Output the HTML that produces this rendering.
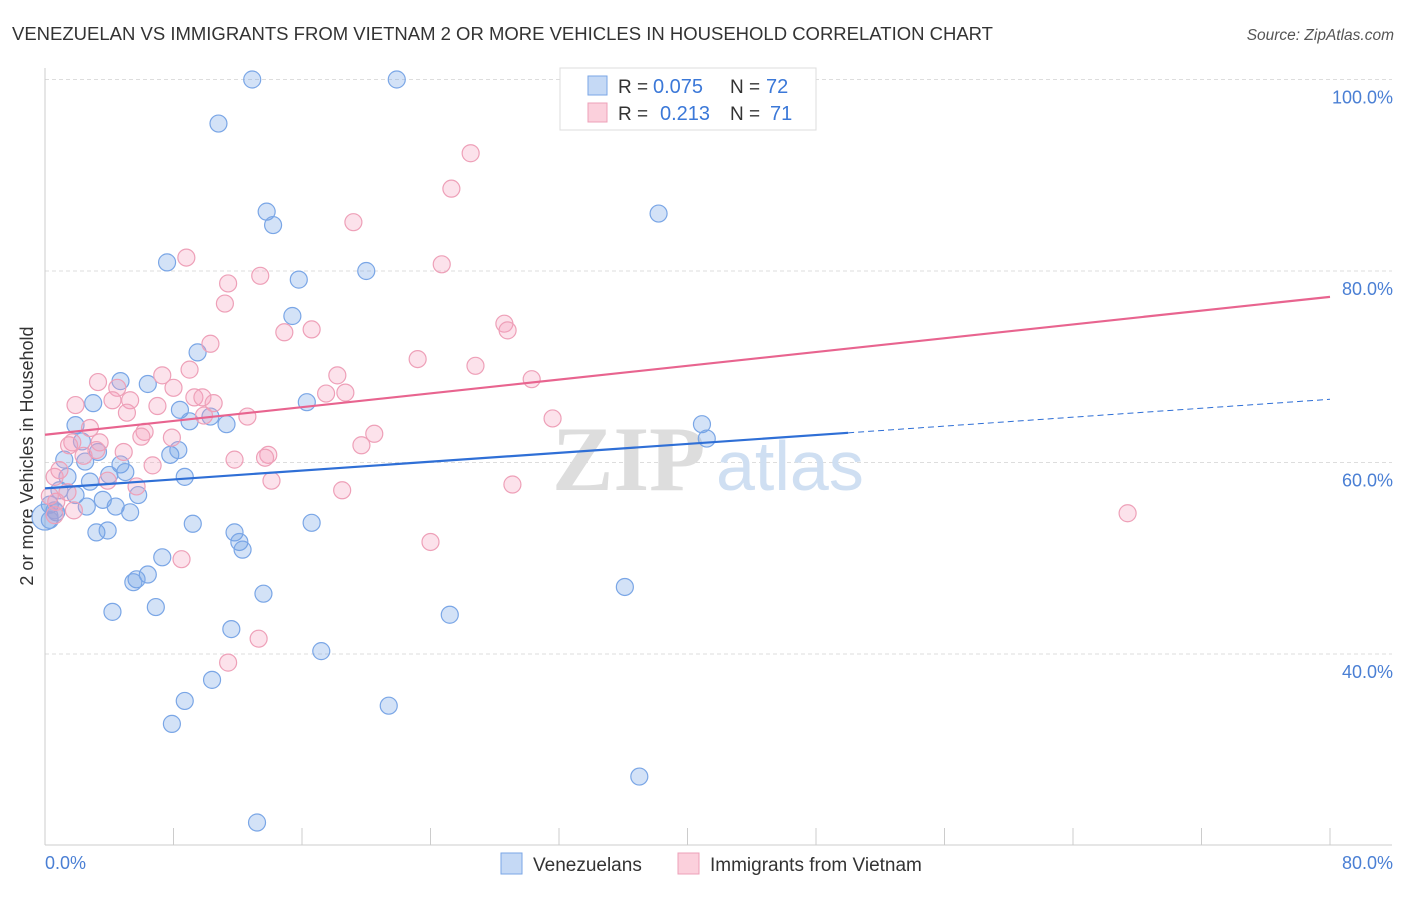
<!DOCTYPE html>
<html><head><meta charset="utf-8"><style>
body{margin:0;background:#fff;width:1406px;height:892px;overflow:hidden;font-family:"Liberation Sans",sans-serif}
</style></head><body>
<svg width="1406" height="892" xmlns="http://www.w3.org/2000/svg">
<text x="12" y="40" font-size="18.5" fill="#333">VENEZUELAN VS IMMIGRANTS FROM VIETNAM 2 OR MORE VEHICLES IN HOUSEHOLD CORRELATION CHART</text>
<text x="1394" y="40" font-size="15.5" fill="#555" font-style="italic" text-anchor="end">Source: ZipAtlas.com</text>
<g id="grid"></g>
<g><text x="552" y="490" font-size="92" fill="#ddd" font-family="Liberation Serif,serif" font-weight="bold">ZIP</text><text x="716" y="490" font-size="70" fill="#cfdff2">atlas</text></g>
<line x1="45" y1="68" x2="45" y2="845" stroke="#ccc"/>
<line x1="45" y1="845" x2="1392" y2="845" stroke="#ccc"/>
<g id="ticks"></g>
<text transform="translate(33,456) rotate(-90)" font-size="18" fill="#333" text-anchor="middle">2 or more Vehicles in Household</text>
<text x="45" y="869" font-size="18" fill="#4a7fd4">0.0%</text>
<text x="1393" y="869" font-size="18" fill="#4a7fd4" text-anchor="end">80.0%</text>
<g id="pts"></g>
<g id="lines"></g>
<g>
<rect x="560" y="68" width="256" height="62" fill="#fff" stroke="#ddd"/>
<rect x="588" y="76" width="19" height="19" fill="#c5d9f5" stroke="#7aa6e6"/>
<rect x="588" y="103" width="19" height="19" fill="#fbd0dc" stroke="#eea0b8"/>
<text x="618" y="93" font-size="19" fill="#333">R =</text>
<text x="653" y="93" font-size="20" fill="#3b78d8">0.075</text>
<text x="730" y="93" font-size="19" fill="#333">N =</text>
<text x="766" y="93" font-size="20" fill="#3b78d8">72</text>
<text x="618" y="120" font-size="19" fill="#333">R =</text>
<text x="660" y="120" font-size="20" fill="#3b78d8">0.213</text>
<text x="730" y="120" font-size="19" fill="#333">N =</text>
<text x="770" y="120" font-size="20" fill="#3b78d8">71</text>
</g>
<g>
<rect x="501" y="853" width="21" height="21" fill="#c5d9f5" stroke="#7aa6e6"/>
<text x="533" y="871" font-size="19" fill="#333">Venezuelans</text>
<rect x="678" y="853" width="21" height="21" fill="#fbd0dc" stroke="#eea0b8"/>
<text x="710" y="871" font-size="19" fill="#333">Immigrants from Vietnam</text>
</g>
</svg>
<script>
const yTicks=[100,80,60,40];
const xTickVals=[0,8,16,24,32,40,48,56,64,72,80];
const blueX=[12.9,21.9,10.8,13.8,14.2,38.2,7.6,15.8,20.0,15.4,9.5,4.7,6.4,3.0,8.4,16.3,9.0,10.3,11.3,1.9,2.3,7.8,8.3,3.3,1.2,4.7,2.5,5.0,4.0,8.7,2.8,1.4,0.9,1.9,3.6,5.8,2.6,4.4,5.3,0.3,0.7,0.0,3.2,3.9,9.2,11.8,12.1,12.3,16.6,7.3,6.4,5.7,5.5,4.2,6.9,13.6,11.6,25.2,36.1,17.2,10.4,8.7,7.9,21.4,37.0,13.2,40.9,41.2,0.6,0.3];
const blueY=[100.0,100.0,95.4,86.2,84.8,86.0,80.9,79.1,80.0,75.3,71.5,68.5,68.2,66.2,65.5,66.3,64.3,64.8,64.0,63.9,62.2,60.8,61.3,61.1,60.3,59.8,60.1,59.0,58.7,58.5,58.0,58.5,57.1,56.6,56.1,56.6,55.4,55.4,54.8,55.6,54.8,54.3,52.7,52.9,53.6,52.7,51.7,50.9,53.7,50.1,48.3,47.8,47.5,44.4,44.9,46.3,42.6,44.1,47.0,40.3,37.3,35.1,32.7,34.6,27.2,22.4,64.0,62.5,55.0,54.0];
const pinkX=[26.5,25.3,19.2,8.8,24.7,13.4,11.4,11.2,16.6,14.9,28.6,28.8,10.3,23.2,26.8,18.2,9.0,7.3,4.5,4.2,5.3,8.0,9.3,9.8,10.5,18.7,17.5,30.3,1.9,7.0,5.1,12.6,9.9,31.6,2.8,6.2,6.0,7.9,1.7,3.4,1.5,20.5,19.7,2.4,4.9,13.9,13.7,11.8,6.7,0.6,3.9,14.1,5.7,1.4,29.1,18.5,0.7,1.8,0.6,24.0,8.5,67.4,11.4,13.3,0.3,0.9,3.2,3.3];
const pinkY=[92.3,88.6,85.1,81.4,80.7,79.5,78.7,76.6,73.9,73.6,74.5,73.8,72.4,70.8,70.1,69.1,69.7,69.1,67.8,66.5,66.5,67.8,66.8,66.8,66.2,67.3,67.2,68.7,66.0,65.9,65.2,64.8,64.9,64.6,63.6,63.2,62.7,62.6,62.1,62.1,61.8,63.0,61.8,60.7,61.1,60.8,60.5,60.3,59.7,58.5,58.1,58.1,57.5,56.9,57.7,57.1,55.9,55.0,54.5,51.7,49.9,54.7,39.1,41.6,56.5,59.2,61.3,68.4];
const blueTrend=[57.3,63.1,66.6];
const pinkTrend=[62.9,77.3];
const X=v=>45+v*(1285/80);
const Y=v=>79.5+(100-v)*9.575;
const NS='http://www.w3.org/2000/svg';
function mk(t,a,p){const e=document.createElementNS(NS,t);for(const k in a)e.setAttribute(k,a[k]);p.appendChild(e);return e;}
const grid=document.getElementById('grid');
yTicks.forEach(t=>{
 const l=mk('line',{x1:45,x2:1392,y1:Y(t),y2:Y(t),stroke:'#ddd','stroke-dasharray':'4,3'},grid);
 
 
 const tx=mk('text',{x:1393,y:Y(t)+24,'font-size':18,fill:'#4a7fd4','text-anchor':'end'},grid);
 tx.textContent=t.toFixed(1)+'%';
 
 
});
const tk=document.getElementById('ticks');
xTickVals.forEach(v=>{
 const l=mk('line',{x1:X(v),x2:X(v),y1:828,y2:845,stroke:'#ccc'},tk);
 
 
});
const pts=document.getElementById('pts');
blueX.forEach((x,i)=>{
 const c=mk('circle',{cx:X(x),cy:Y(blueY[i]),r:(x===0?13:8.5),fill:'rgba(110,160,230,0.3)',stroke:'#7aa6e6','stroke-width':1.2},pts);
 
 
});
pinkX.forEach((x,i)=>{
 const c=mk('circle',{cx:X(x),cy:Y(pinkY[i]),r:8.5,fill:'rgba(245,160,190,0.3)',stroke:'#eea0b8','stroke-width':1.2},pts);
 
 
});
const ln=document.getElementById('lines');
let l1=mk('line',{x1:X(0),y1:Y(blueTrend[0]),x2:X(50),y2:Y(blueTrend[1]),stroke:'#2f6fd6','stroke-width':2.2},ln);


let l2=mk('line',{x1:X(50),y1:Y(blueTrend[1]),x2:X(80),y2:Y(blueTrend[2]),stroke:'#2f6fd6','stroke-width':1,'stroke-dasharray':'6,4'},ln);


let l3=mk('line',{x1:X(0),y1:Y(pinkTrend[0]),x2:X(80),y2:Y(pinkTrend[1]),stroke:'#e8648f','stroke-width':2.2},ln);


</script>
</body></html>
